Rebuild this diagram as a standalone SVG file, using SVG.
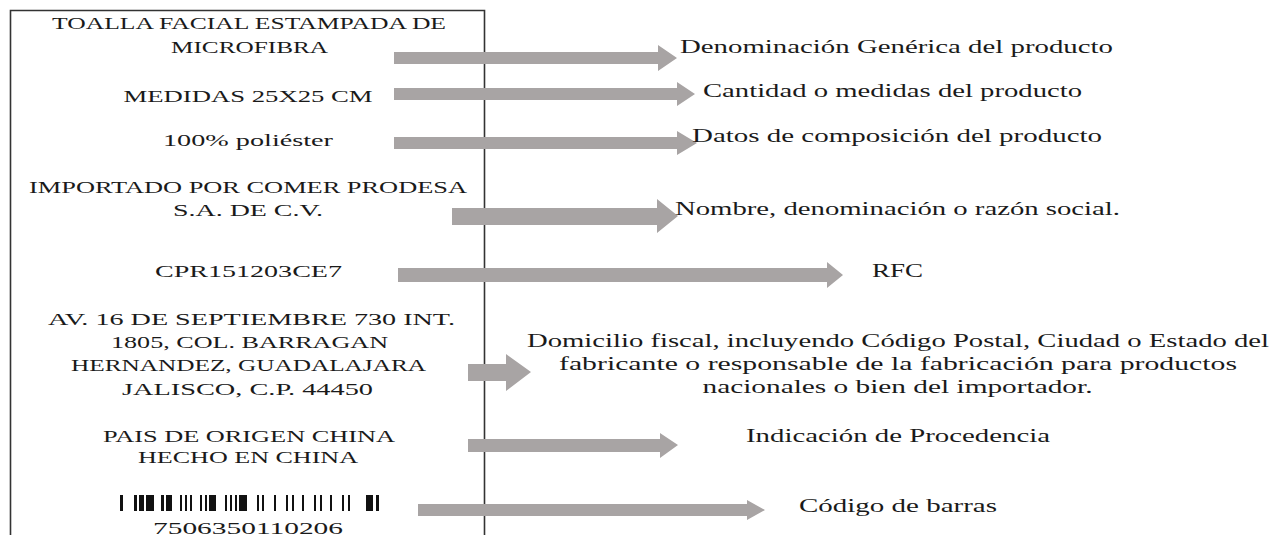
<svg xmlns="http://www.w3.org/2000/svg" width="1282" height="535" viewBox="0 0 1282 535">
<style>
text{font-family:"Liberation Serif","DejaVu Serif",serif;fill:#1a1a1a;}
.l{font-size:16px;text-anchor:middle;}
.r{font-size:18.5px;text-anchor:middle;}
.arr{fill:#a8a4a4;}
.box{fill:none;stroke:#333;stroke-width:1.6;}
.bar{fill:#111;}
</style>
<rect width="1282" height="535" fill="#fff"/>
<g id="label-box">
<path class="box" d="M10.5,540 V10.5 H484.5 V540"/>
</g>
<g id="connectors">
<polygon class="arr" points="394,52 658,52 658,45 677,58 658,71 658,64 394,64"/>
<polygon class="arr" points="394,88 677,88 677,82 695,94 677,106 677,100 394,100"/>
<polygon class="arr" points="394,137 677,137 677,131 697,143 677,155 677,149 394,149"/>
<polygon class="arr" points="452,208 657,208 657,199 678,216 657,233 657,225 452,225"/>
<polygon class="arr" points="398,268 827,268 827,262 843,275 827,288 827,282 398,282"/>
<polygon class="arr" points="468,364 506,364 506,354 531,372 506,391 506,381 468,381"/>
<polygon class="arr" points="468,439 660,439 660,433 678,445 660,458 660,452 468,452"/>
<polygon class="arr" points="418,504 747,504 747,500 765,510 747,520 747,516 418,516"/>
</g>
<g id="node-nombre-producto">
<text class="l" x="249" y="29" textLength="394" lengthAdjust="spacingAndGlyphs">TOALLA FACIAL ESTAMPADA DE</text>
<text class="l" x="249.5" y="53" textLength="157" lengthAdjust="spacingAndGlyphs">MICROFIBRA</text>
</g>
<g id="node-medidas">
<text class="l" x="248" y="102" textLength="249" lengthAdjust="spacingAndGlyphs">MEDIDAS 25X25 CM</text>
</g>
<g id="node-composicion">
<text class="l" x="248" y="146" textLength="170" lengthAdjust="spacingAndGlyphs">100% poliéster</text>
</g>
<g id="node-importador">
<text class="l" x="248" y="193" textLength="438" lengthAdjust="spacingAndGlyphs">IMPORTADO POR COMER PRODESA</text>
<text class="l" x="248" y="216" textLength="150" lengthAdjust="spacingAndGlyphs">S.A. DE C.V.</text>
</g>
<g id="node-rfc">
<text class="l" x="248.5" y="277" textLength="187" lengthAdjust="spacingAndGlyphs">CPR151203CE7</text>
</g>
<g id="node-domicilio">
<text class="l" x="251.5" y="325" textLength="407" lengthAdjust="spacingAndGlyphs">AV. 16 DE SEPTIEMBRE 730 INT.</text>
<text class="l" x="249.5" y="348" textLength="277" lengthAdjust="spacingAndGlyphs">1805, COL. BARRAGAN</text>
<text class="l" x="248.5" y="371" textLength="355" lengthAdjust="spacingAndGlyphs">HERNANDEZ, GUADALAJARA</text>
<text class="l" x="247.5" y="395" textLength="251" lengthAdjust="spacingAndGlyphs">JALISCO, C.P. 44450</text>
</g>
<g id="node-origen">
<text class="l" x="249" y="442" textLength="292" lengthAdjust="spacingAndGlyphs">PAIS DE ORIGEN CHINA</text>
<text class="l" x="248" y="463" textLength="220" lengthAdjust="spacingAndGlyphs">HECHO EN CHINA</text>
</g>
<g id="node-barcode">
<g class="bar">
<rect x="120" y="495" width="3" height="16"/>
<rect x="134" y="495" width="3" height="16"/>
<rect x="139" y="495" width="5" height="16"/>
<rect x="146" y="495" width="8" height="16"/>
<rect x="161" y="495" width="3" height="16"/>
<rect x="166" y="495" width="6" height="16"/>
<rect x="180" y="495" width="2" height="16"/>
<rect x="185" y="495" width="2" height="16"/>
<rect x="190" y="495" width="2" height="16"/>
<rect x="200" y="495" width="2" height="16"/>
<rect x="205" y="495" width="2" height="16"/>
<rect x="209" y="495" width="7" height="16"/>
<rect x="225" y="495" width="2" height="16"/>
<rect x="230" y="495" width="2" height="16"/>
<rect x="235" y="495" width="2" height="16"/>
<rect x="239" y="495" width="8" height="16"/>
<rect x="257" y="495" width="2" height="16"/>
<rect x="262" y="495" width="2" height="16"/>
<rect x="274" y="495" width="2" height="16"/>
<rect x="286" y="495" width="2" height="16"/>
<rect x="292" y="495" width="2" height="16"/>
<rect x="302" y="495" width="2" height="16"/>
<rect x="314" y="495" width="2" height="16"/>
<rect x="320" y="495" width="2" height="16"/>
<rect x="330" y="495" width="2" height="16"/>
<rect x="342" y="495" width="2" height="16"/>
<rect x="348" y="495" width="2" height="16"/>
<rect x="366" y="495" width="7" height="16"/>
<rect x="376" y="495" width="3" height="16"/>
</g>
<text class="l" x="248" y="534" textLength="190" lengthAdjust="spacingAndGlyphs">7506350110206</text>
</g>
<g id="node-denominacion">
<text class="r" x="896.5" y="53" textLength="433" lengthAdjust="spacingAndGlyphs">Denominación Genérica del producto</text>
</g>
<g id="node-cantidad">
<text class="r" x="892.5" y="97" textLength="379" lengthAdjust="spacingAndGlyphs">Cantidad o medidas del producto</text>
</g>
<g id="node-datos">
<text class="r" x="897" y="142" textLength="410" lengthAdjust="spacingAndGlyphs">Datos de composición del producto</text>
</g>
<g id="node-razon-social">
<text class="r" x="897.5" y="215" textLength="445" lengthAdjust="spacingAndGlyphs">Nombre, denominación o razón social.</text>
</g>
<g id="node-rfc-label">
<text class="r" x="897.5" y="277" textLength="51" lengthAdjust="spacingAndGlyphs">RFC</text>
</g>
<g id="node-domicilio-fiscal">
<text class="r" x="898" y="347" textLength="742" lengthAdjust="spacingAndGlyphs">Domicilio fiscal, incluyendo Código Postal, Ciudad o Estado del</text>
<text class="r" x="898" y="370" textLength="678" lengthAdjust="spacingAndGlyphs">fabricante o responsable de la fabricación para productos</text>
<text class="r" x="897.5" y="393" textLength="390" lengthAdjust="spacingAndGlyphs">nacionales o bien del importador.</text>
</g>
<g id="node-procedencia">
<text class="r" x="898" y="442" textLength="304" lengthAdjust="spacingAndGlyphs">Indicación de Procedencia</text>
</g>
<g id="node-codigo-barras">
<text class="r" x="898" y="512" textLength="198" lengthAdjust="spacingAndGlyphs">Código de barras</text>
</g>
</svg>
